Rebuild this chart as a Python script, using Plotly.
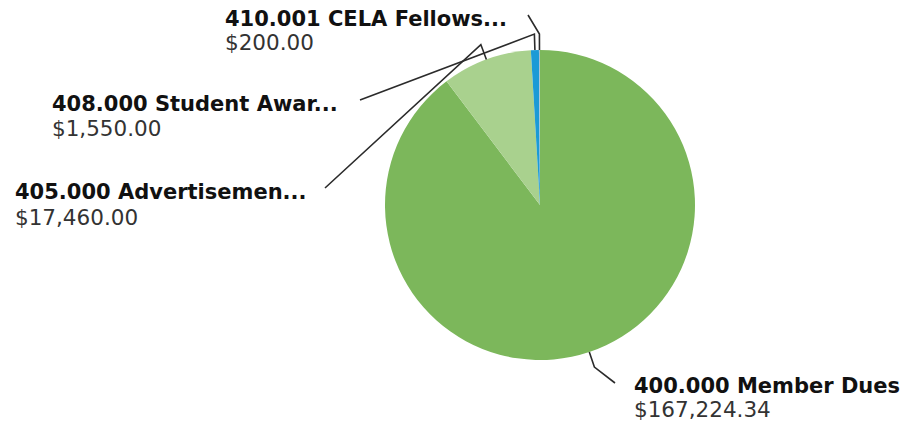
import math
import plotly.graph_objects as go

# ---- data ----
labels = ["400.000 Member Dues", "405.000 Advertisemen...", "408.000 Student Awar...", "410.001 CELA Fellows..."]
values = [167224.34, 17460.00, 1550.00, 200.00]
value_text = ["$167,224.34", "$17,460.00", "$1,550.00", "$200.00"]
colors = ["#7cb75b", "#a9d18e", "#1b9ad6", "#a9bfd0"]

# ---- layout settings (pixels, in the photographed window) ----
W, H = 910, 429
CX, CY, R = 540, 205, 155
# label anchor: left x, bold-line centre y, value-line centre y, leader line start point
label_pos = [
    (632, 386, 409, 615, 383),
    (13, 192, 217, 325, 188),
    (50, 104, 129, 360, 100),
    (223, 19, 42, 528, 15),
]

def px(x):
    return x / W

def py(y):
    return 1 - y / H

fig = go.Figure(go.Pie(
    labels=labels,
    values=values,
    marker=dict(colors=colors, line=dict(width=0)),
    sort=False,
    direction="clockwise",
    rotation=0,
    textinfo="none",
    hoverinfo="label+value",
    showlegend=False,
    domain=dict(x=[px(CX - R), px(CX + R)], y=[py(CY + R), py(CY - R)]),
))

total = sum(values)
cum = 0.0
shapes = []
annotations = []
for i, v in enumerate(values):
    mid = (cum + v / 2) / total * 2 * math.pi
    cum += v
    sx, sy = math.sin(mid), -math.cos(mid)
    ex, ey = CX + R * sx, CY + R * sy
    bx, by = CX + (R + 16) * sx, CY + (R + 16) * sy
    lx, lby, lvy, ax, ay = label_pos[i]
    path = f"M {px(ax)},{py(ay)} L {px(bx)},{py(by)} L {px(ex)},{py(ey)}"
    shapes.append(dict(type="path", xref="paper", yref="paper", path=path,
                       line=dict(color="#2b2b2b", width=1.6)))
    annotations.append(dict(x=px(lx), y=py(lby), xref="paper", yref="paper",
                            text=f"<b>{labels[i]}</b>", showarrow=False,
                            xanchor="left", yanchor="middle",
                            font=dict(family="DejaVu Sans", size=21, color="#111111")))
    annotations.append(dict(x=px(lx), y=py(lvy), xref="paper", yref="paper",
                            text=value_text[i], showarrow=False,
                            xanchor="left", yanchor="middle",
                            font=dict(family="DejaVu Sans", size=21.5, color="#333333")))

fig.update_layout(
    width=W, height=H,
    margin=dict(l=0, r=0, t=0, b=0),
    paper_bgcolor="white",
    plot_bgcolor="white",
    shapes=shapes,
    annotations=annotations,
)

fig.write_html("out.html", config={"displayModeBar": False},
               post_script="document.body.style.margin='0';")
